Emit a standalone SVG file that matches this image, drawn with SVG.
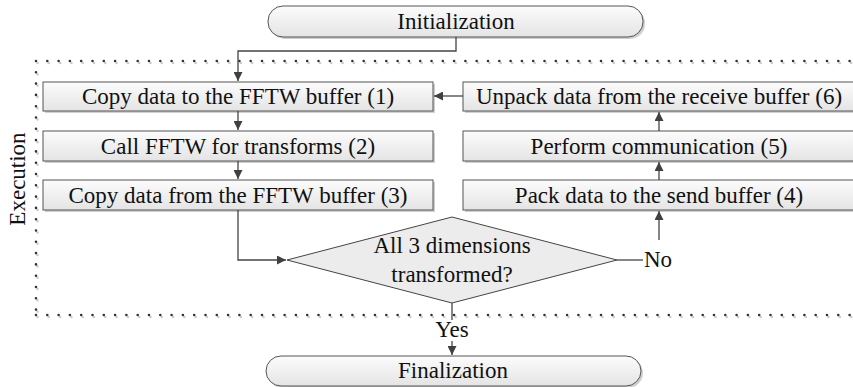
<svg xmlns="http://www.w3.org/2000/svg" width="853" height="387" viewBox="0 0 853 387">
<style>
text{font-family:"Liberation Serif","Times New Roman",serif;font-size:23px;fill:#111;text-anchor:middle}
.box{fill:url(#g);stroke:#555;stroke-width:1}
.sh{fill:#cfcfcf}
.ln{fill:none;stroke:#444;stroke-width:1.3}
.dot{fill:none;stroke:#333;stroke-width:2.6;stroke-linecap:round;stroke-dasharray:0 11.3}
.dotsh{fill:none;stroke:#ccc;stroke-width:2.6;stroke-linecap:round;stroke-dasharray:0 11.3}
</style>
<defs>
<linearGradient id="g" x1="0" y1="0" x2="0" y2="1">
<stop offset="0" stop-color="#fcfcfc"/>
<stop offset="1" stop-color="#e4e4e4"/>
</linearGradient>
<marker id="ah" viewBox="0 0 10 10" refX="10" refY="5" markerWidth="9" markerHeight="9" markerUnits="userSpaceOnUse" orient="auto">
<path d="M0,0 L10,5 L0,10 Z" fill="#404040"/>
</marker>
</defs>
<rect width="853" height="387" fill="#fff"/>
<g id="execution-frame">
<path class="dotsh" d="M37.5,63 H855 M37.5,317 H855 M37.5,63 V317"/>
<path class="dot" d="M36,61 H855 M36,315 H855 M36,61 V315"/>
<text transform="translate(25,179) rotate(-90)">Execution</text>
</g>
<g id="initialization">
<rect class="sh" x="270" y="8" width="375" height="31" rx="15"/>
<rect class="box" x="268" y="6" width="375" height="31" rx="15"/>
<text x="456" y="29">Initialization</text>
</g>
<g id="step1">
<rect class="sh" x="45" y="84" width="390" height="29"/>
<rect class="box" x="43" y="82" width="390" height="29"/>
<text x="238" y="104">Copy data to the FFTW buffer (1)</text>
</g>
<g id="step2">
<rect class="sh" x="45" y="133" width="390" height="30"/>
<rect class="box" x="43" y="131" width="390" height="30"/>
<text x="238" y="154">Call FFTW for transforms (2)</text>
</g>
<g id="step3">
<rect class="sh" x="45" y="182" width="390" height="30"/>
<rect class="box" x="43" y="180" width="390" height="30"/>
<text x="238" y="203">Copy data from the FFTW buffer (3)</text>
</g>
<g id="step6">
<rect class="sh" x="465" y="84" width="392" height="29"/>
<rect class="box" x="463" y="82" width="392" height="29"/>
<text x="659" y="104">Unpack data from the receive buffer (6)</text>
</g>
<g id="step5">
<rect class="sh" x="465" y="133" width="392" height="30"/>
<rect class="box" x="463" y="131" width="392" height="30"/>
<text x="659" y="154">Perform communication (5)</text>
</g>
<g id="step4">
<rect class="sh" x="465" y="182" width="392" height="30"/>
<rect class="box" x="463" y="180" width="392" height="30"/>
<text x="659" y="203">Pack data to the send buffer (4)</text>
</g>
<g id="decision">
<polygon points="287,260 452,217 617,260 452,303" fill="#ececec" stroke="#444" stroke-width="1"/>
<text x="452" y="253">All 3 dimensions</text>
<text x="452" y="282">transformed?</text>
</g>
<g id="finalization">
<rect class="sh" x="268" y="358" width="375" height="30" rx="15"/>
<rect class="box" x="266" y="356" width="375" height="30" rx="15"/>
<text x="453" y="378">Finalization</text>
</g>
<g id="connectors">
<path class="ln" d="M456,37 V51 H238 V81" marker-end="url(#ah)"/>
<path class="ln" d="M238,111 V130" marker-end="url(#ah)"/>
<path class="ln" d="M238,161 V179" marker-end="url(#ah)"/>
<path class="ln" d="M238,210 V260 H286" marker-end="url(#ah)"/>
<path class="ln" d="M617,260 H643"/>
<text x="658" y="267">No</text>
<path class="ln" d="M659,240 V211" marker-end="url(#ah)"/>
<path class="ln" d="M659,180 V162" marker-end="url(#ah)"/>
<path class="ln" d="M659,131 V112" marker-end="url(#ah)"/>
<path class="ln" d="M463,96 H434" marker-end="url(#ah)"/>
<path class="ln" d="M452,303 V320"/>
<text x="452" y="337">Yes</text>
<path class="ln" d="M452,341 V355" marker-end="url(#ah)"/>
</g>
</svg>
